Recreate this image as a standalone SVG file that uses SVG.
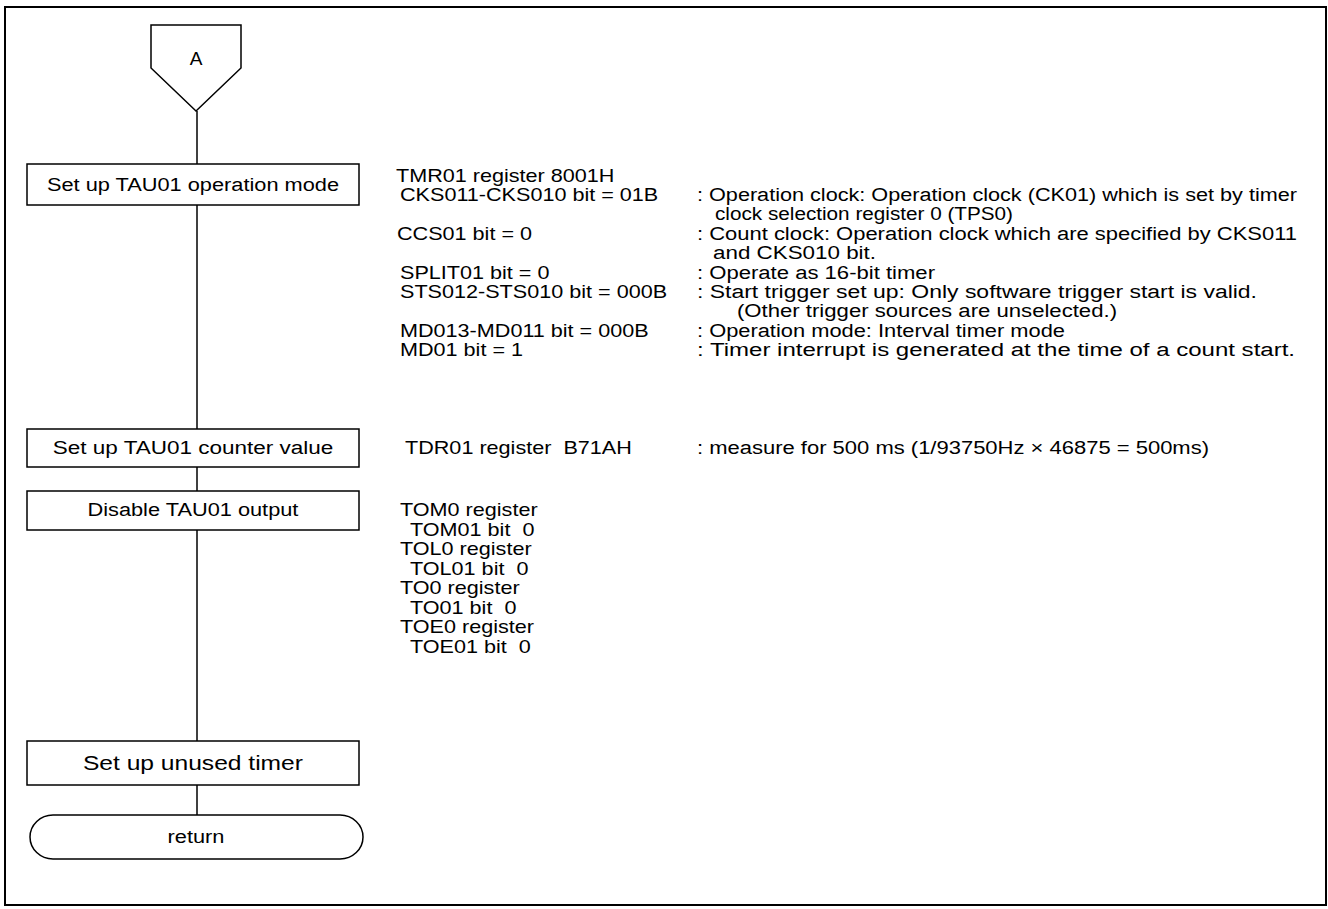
<svg xmlns="http://www.w3.org/2000/svg" width="1328" height="909" viewBox="0 0 1328 909">
<style>
.f{fill:#fff;stroke:#000;stroke-width:1.5}
.c{fill:none;stroke:#000;stroke-width:1.5}
text{font-family:"Liberation Sans",Arial,sans-serif;fill:#000;white-space:pre}
.bt{font-size:18px;text-anchor:middle;transform:scaleX(1.21);transform-box:fill-box;transform-origin:50% 50%}
.an text{font-size:18px}
.an .s{transform:scaleX(1.2);transform-box:fill-box;transform-origin:0 0}
</style>
<rect x="0" y="0" width="1328" height="909" fill="#fff"/>
<rect x="5" y="7" width="1321" height="898" fill="none" stroke="#000" stroke-width="2"/>
<g id="connectors">
<line class="c" x1="197" y1="111" x2="197" y2="164"/>
<line class="c" x1="197" y1="205" x2="197" y2="429"/>
<line class="c" x1="197" y1="467" x2="197" y2="491"/>
<line class="c" x1="197" y1="530" x2="197" y2="741"/>
<line class="c" x1="197" y1="785" x2="197" y2="815"/>
</g>
<g id="start">
<polygon class="f" points="151,25 241,25 241,68 196,111 151,68"/>
<text x="196" y="65" style="font-size:19px;text-anchor:middle">A</text>
</g>
<g id="n1">
<rect class="f" x="27" y="164" width="332" height="41"/>
<text class="bt" x="193" y="191">Set up TAU01 operation mode</text>
</g>
<g id="n2">
<rect class="f" x="27" y="429" width="332" height="38"/>
<text class="bt" x="193" y="454" style="transform:scaleX(1.25)">Set up TAU01 counter value</text>
</g>
<g id="n3">
<rect class="f" x="27" y="491" width="332" height="39"/>
<text class="bt" x="193" y="516">Disable TAU01 output</text>
</g>
<g id="n4">
<rect class="f" x="27" y="741" width="332" height="44"/>
<text class="bt" x="193" y="770" style="font-size:20px;transform:scaleX(1.23)">Set up unused timer</text>
</g>
<g id="end">
<path class="f" d="M53,815 H340 A23,22 0 0 1 340,859 H53 A23,22 0 0 1 53,815 Z"/>
<text class="bt" x="196" y="843">return</text>
</g>
<g id="notes" class="an">
<text class="s" x="396" y="182">TMR01 register 8001H</text>
<text class="s" x="400" y="201">CKS011-CKS010 bit = 01B</text>
<text x="697" y="201" textLength="600" lengthAdjust="spacingAndGlyphs">: Operation clock: Operation clock (CK01) which is set by timer</text>
<text x="715" y="220" textLength="298" lengthAdjust="spacingAndGlyphs">clock selection register 0 (TPS0)</text>
<text class="s" x="397" y="240">CCS01 bit = 0</text>
<text x="697" y="240" textLength="600" lengthAdjust="spacingAndGlyphs">: Count clock: Operation clock which are specified by CKS011</text>
<text x="713" y="259" textLength="163" lengthAdjust="spacingAndGlyphs">and CKS010 bit.</text>
<text class="s" x="400" y="279">SPLIT01 bit = 0</text>
<text x="697" y="279" textLength="238" lengthAdjust="spacingAndGlyphs">: Operate as 16-bit timer</text>
<text class="s" x="400" y="298">STS012-STS010 bit = 000B</text>
<text x="697" y="298" textLength="560" lengthAdjust="spacingAndGlyphs">: Start trigger set up: Only software trigger start is valid.</text>
<text x="737" y="317" textLength="380" lengthAdjust="spacingAndGlyphs">(Other trigger sources are unselected.)</text>
<text class="s" x="400" y="337">MD013-MD011 bit = 000B</text>
<text x="697" y="337" textLength="368" lengthAdjust="spacingAndGlyphs">: Operation mode: Interval timer mode</text>
<text class="s" x="400" y="356">MD01 bit = 1</text>
<text x="697" y="356" textLength="598" lengthAdjust="spacingAndGlyphs">: Timer interrupt is generated at the time of a count start.</text>
<text class="s" x="405" y="454">TDR01 register  B71AH</text>
<text x="697" y="454" textLength="512" lengthAdjust="spacingAndGlyphs">: measure for 500 ms (1/93750Hz × 46875 = 500ms)</text>
<text class="s" x="400" y="516">TOM0 register</text>
<text class="s" x="410" y="536">TOM01 bit  0</text>
<text class="s" x="400" y="555">TOL0 register</text>
<text class="s" x="410" y="575">TOL01 bit  0</text>
<text class="s" x="400" y="594">TO0 register</text>
<text class="s" x="410" y="614">TO01 bit  0</text>
<text class="s" x="400" y="633">TOE0 register</text>
<text class="s" x="410" y="653">TOE01 bit  0</text>
</g>
</svg>
